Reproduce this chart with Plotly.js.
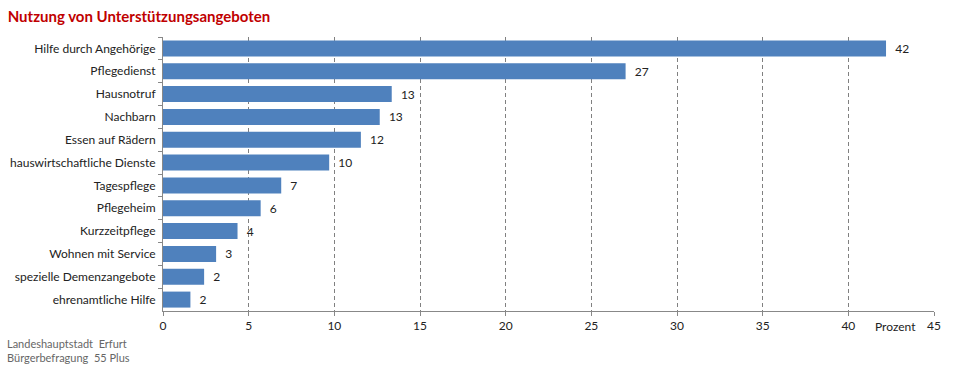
<!DOCTYPE html>
<html>
<head>
<meta charset="utf-8">
<script src="https://cdn.plot.ly/plotly-3.0.1.min.js"></script>
<style>html,body{margin:0;padding:0;background:#fff;}#chart{width:960px;height:365px;}</style>
</head>
<body>
<div id="chart"></div>
<script>
const categories = ["Hilfe durch Angehörige","Pflegedienst","Hausnotruf","Nachbarn","Essen auf Rädern","hauswirtschaftliche Dienste","Tagespflege","Pflegeheim","Kurzzeitpflege","Wohnen mit Service","spezielle Demenzangebote","ehrenamtliche Hilfe"];
const values = [42.2, 27.0, 13.35, 12.65, 11.55, 9.7, 6.9, 5.7, 4.35, 3.1, 2.4, 1.6];
const valueLabels = ["42","27","13","13","12","10","7","6","4","3","2","2"];
const xTicks = [0,5,10,15,20,25,30,35,40,45];

const FONT = "Lato, 'Open Sans', sans-serif";

const trace = {
  type: "bar",
  orientation: "h",
  y: categories,
  x: values,
  text: valueLabels,
  texttemplate: "\u00a0\u00a0%{text}",
  textposition: "outside",
  cliponaxis: false,
  textfont: {family: FONT, size: 12, color: "#222"},
  marker: {color: "#4f81bd"},
  hoverinfo: "skip"
};

const layout = {
  width: 960, height: 365,
  margin: {l: 163, r: 26, t: 37, b: 54},
  paper_bgcolor: "#fff", plot_bgcolor: "#fff",
  bargap: 0.3,
  showlegend: false,
  font: {family: FONT, size: 12, color: "#222"},
  title: {
    text: "<b>Nutzung von Unterstützungsangeboten</b>",
    x: 0.008, xanchor: "left", y: 0.955, yanchor: "middle",
    font: {family: FONT, size: 15, color: "#c00000"}
  },
  xaxis: {
    range: [0, 45],
    tickvals: xTicks,
    ticktext: xTicks.map(String),
    showgrid: true, gridcolor: "#808080", griddash: "4px,3px", gridwidth: 1,
    zeroline: false,
    showline: true, linecolor: "#888", linewidth: 1,
    ticks: "outside", ticklen: 4, tickcolor: "#888",
    tickfont: {family: FONT, size: 12, color: "#222"},
    fixedrange: true
  },
  yaxis: {
    autorange: "reversed",
    type: "category",
    showline: true, linecolor: "#888", linewidth: 1,
    ticks: "outside", ticklen: 4, tickcolor: "#888", tickson: "boundaries",
    showgrid: false, zeroline: false,
    tickfont: {family: FONT, size: 12, color: "#222"},
    ticklabelstandoff: 4,
    fixedrange: true
  },
  annotations: [
    {text: "Prozent", xref: "x", yref: "paper", x: 42.75, y: 0, yshift: -6, xanchor: "center", yanchor: "top", showarrow: false, font: {family: FONT, size: 12, color: "#222"}},
    {text: "Landeshauptstadt  Erfurt<br>Bürgerbefragung  55 Plus", xref: "paper", yref: "paper", x: (5-163)/771, y: 0, yshift: -24, xanchor: "left", yanchor: "top", align: "left", showarrow: false, font: {family: FONT, size: 11, color: "#666"}}
  ]
};

Plotly.newPlot("chart", [trace], layout, {displayModeBar: false, staticPlot: true});
</script>
</body>
</html>
